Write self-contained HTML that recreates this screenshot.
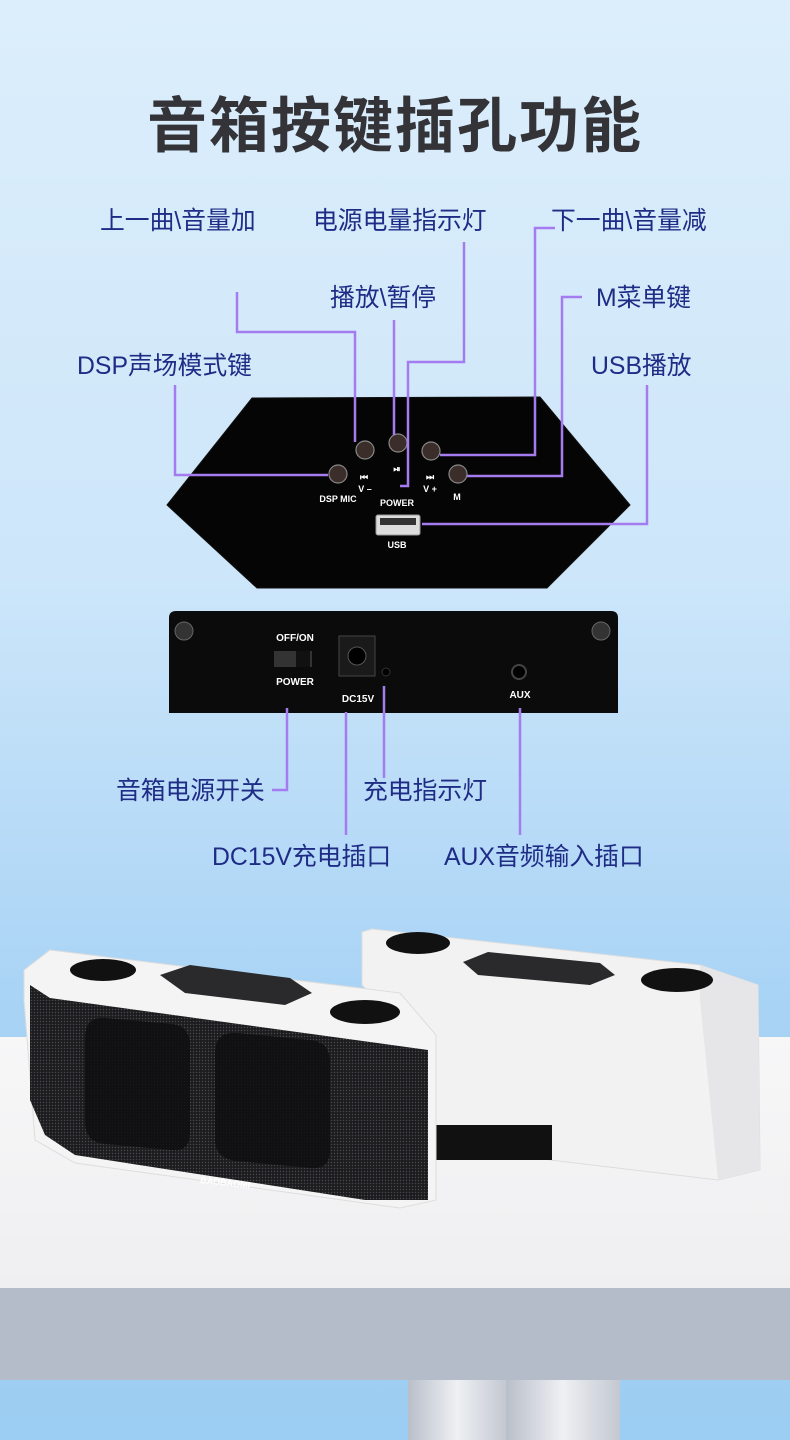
<!DOCTYPE html>
<html><head><meta charset="utf-8"><style>
html,body{margin:0;padding:0}
body{width:790px;height:1440px;overflow:hidden;background:linear-gradient(#dceefb 0%,#cde6fa 40%,#a8d3f5 70%,#9ccdf2 100%);font-family:"Liberation Sans","Noto Sans CJK SC",sans-serif;}
svg{display:block}
</style></head><body>
<svg width="790" height="1440" viewBox="0 0 790 1440" xmlns="http://www.w3.org/2000/svg">
<defs>
<linearGradient id="pil" x1="0" x2="1"><stop offset="0" stop-color="#b9bfca"/><stop offset="0.5" stop-color="#eef0f3"/><stop offset="1" stop-color="#c3c8d1"/></linearGradient>
<linearGradient id="tbl" x1="0" y1="0" x2="0" y2="1"><stop offset="0" stop-color="#f7f7f8"/><stop offset="1" stop-color="#efeff1"/></linearGradient>
<pattern id="mesh" width="3" height="3" patternUnits="userSpaceOnUse"><rect width="3" height="3" fill="#1c1c1e"/><circle cx="1.5" cy="1.5" r="0.7" fill="#4a4a4e"/></pattern>
</defs>
<text x="395" y="147" text-anchor="middle" font-size="60" font-weight="bold" fill="#333338" font-family="Noto Sans CJK SC,sans-serif" letter-spacing="2">音箱按键插孔功能</text>
<g font-size="24.8" fill="#1f2c86" font-family="Liberation Sans,Noto Sans CJK SC,sans-serif">
<text x="100" y="229">上一曲\音量加</text>
<text x="313" y="229">电源电量指示灯</text>
<text x="551" y="229">下一曲\音量减</text>
<text x="330" y="306">播放\暂停</text>
<text x="596" y="306">M菜单键</text>
<text x="77" y="374">DSP声场模式键</text>
<text x="591" y="374">USB播放</text>
<text x="116" y="799">音箱电源开关</text>
<text x="363" y="799">充电指示灯</text>
<text x="212" y="865">DC15V充电插口</text>
<text x="444" y="865">AUX音频输入插口</text>
</g>
<polygon points="252,398 540,397 630,505 547,588 257,588 167,505" fill="#050505" stroke="#111" stroke-width="1"/>
<g fill="#3a2d2a" stroke="#888" stroke-width="1.2">
<circle cx="338" cy="474" r="9"/><circle cx="365" cy="450" r="9"/><circle cx="398" cy="443" r="9"/><circle cx="431" cy="451" r="9"/><circle cx="458" cy="474" r="9"/>
</g>
<g fill="#fff" font-size="9" font-weight="bold" font-family="Liberation Sans,sans-serif" text-anchor="middle">
<text x="338" y="502">DSP MIC</text><text x="364" y="480">⏮</text><text x="365" y="492">V –</text>
<text x="397" y="472">⏯</text><text x="397" y="506">POWER</text>
<text x="430" y="480">⏭</text><text x="430" y="492">V +</text><text x="457" y="500">M</text>
<text x="397" y="548">USB</text>
</g>
<rect x="376" y="515" width="44" height="20" rx="2" fill="#ddd" stroke="#999"/>
<rect x="380" y="518" width="36" height="7" fill="#333"/>
<path d="M169,618 Q169,611 176,611 L611,611 Q618,611 618,618 L618,713 L169,713 Z" fill="#0b0b0c"/>
<circle cx="184" cy="631" r="9" fill="#333" stroke="#666"/><circle cx="601" cy="631" r="9" fill="#333" stroke="#666"/>
<g fill="#fff" font-size="10" font-weight="bold" font-family="Liberation Sans,sans-serif" text-anchor="middle">
<text x="295" y="641">OFF/ON</text><text x="295" y="685">POWER</text><text x="358" y="702">DC15V</text><text x="520" y="698">AUX</text>
</g>
<rect x="274" y="651" width="38" height="16" fill="#333"/><rect x="296" y="651" width="14" height="16" fill="#111"/>
<rect x="339" y="636" width="36" height="40" fill="#1a1a1a" stroke="#444"/><circle cx="357" cy="656" r="9" fill="#000" stroke="#555"/>
<circle cx="386" cy="672" r="4" fill="#000" stroke="#333"/>
<circle cx="519" cy="672" r="7" fill="#000" stroke="#444" stroke-width="2"/>
<g fill="none" stroke="#a57cf0" stroke-width="2.5">
<polyline points="237,292 237,332 355,332 355,442"/>
<polyline points="464,242 464,362 408,362 408,486 400,486"/>
<polyline points="394,320 394,435"/>
<polyline points="555,228 535,228 535,455 440,455"/>
<polyline points="582,297 562,297 562,476 467,476"/>
<polyline points="647,385 647,524 422,524"/>
<polyline points="175,385 175,475 328,475"/>
<polyline points="287,708 287,790 272,790"/>
<polyline points="346,712 346,835"/>
<polyline points="384,686 384,778"/>
<polyline points="520,708 520,835"/>
</g>
<rect x="0" y="1037" width="790" height="251" fill="url(#tbl)"/>
<rect x="0" y="1288" width="790" height="92" fill="#b4bcca"/>
<rect x="408" y="1380" width="98" height="60" fill="url(#pil)"/>
<rect x="506" y="1380" width="114" height="60" fill="url(#pil)"/>
<polygon points="362,932 372,929 700,965 758,985 760,1170 718,1180 550,1160 436,1140 436,1060 362,985" fill="#f2f2f2" stroke="#ddd"/>
<polygon points="700,965 758,985 760,1170 718,1180 700,1000" fill="#e6e6e8"/>
<rect x="436" y="1125" width="116" height="35" fill="#111"/>
<polygon points="463,962 488,952 600,963 615,975 590,985 478,975" fill="#2a2a2c"/>
<ellipse cx="418" cy="943" rx="32" ry="11" fill="#111"/><ellipse cx="677" cy="980" rx="36" ry="12" fill="#111"/>
<polygon points="24,970 50,950 400,993 436,1035 436,1200 400,1208 75,1163 35,1140 24,1000" fill="#f4f4f4" stroke="#ddd"/>
<polygon points="30,985 50,998 428,1050 428,1200 365,1200 75,1155 45,1135 30,1100" fill="url(#mesh)"/>
<path d="M105,1018 L172,1024 Q190,1026 190,1046 L190,1132 Q190,1152 172,1150 L105,1144 Q85,1142 85,1122 L85,1038 Q85,1016 105,1018 Z" fill="#0e0e10" opacity="0.85"/>
<path d="M237,1033 L310,1040 Q330,1042 330,1062 L330,1150 Q330,1170 310,1168 L237,1161 Q215,1159 215,1139 L215,1053 Q215,1031 237,1033 Z" fill="#0e0e10" opacity="0.85"/>
<polygon points="160,975 190,965 290,978 312,993 285,1005 185,993" fill="#2a2a2c"/>
<ellipse cx="103" cy="970" rx="33" ry="11" fill="#111"/><ellipse cx="365" cy="1012" rx="35" ry="12" fill="#111"/>
<text x="200" y="1183" fill="#fff" font-size="9" font-weight="bold" font-family="Liberation Sans,sans-serif" transform="rotate(6 200 1183)">BAOBAOMI</text>
</svg>
</body></html>
